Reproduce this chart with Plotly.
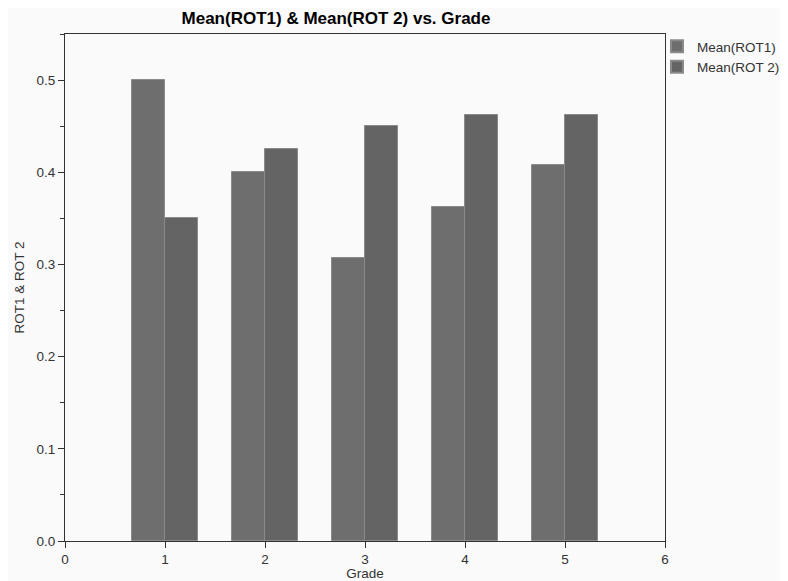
import plotly.graph_objects as go

grades = [1, 2, 3, 4, 5]
rot1 = [0.500, 0.400, 0.307, 0.362, 0.408]
rot2 = [0.350, 0.425, 0.450, 0.462, 0.462]
x_ticks = [0, 1, 2, 3, 4, 5, 6]
y_ticks = [0.0, 0.1, 0.2, 0.3, 0.4, 0.5]

fig = go.Figure()
fig.add_trace(go.Bar(x=grades, y=rot1, name="Mean(ROT1)", offset=-1/3, width=1/3,
                     marker=dict(color="#6e6e6e", line=dict(color="#8a8a8a", width=1))))
fig.add_trace(go.Bar(x=grades, y=rot2, name="Mean(ROT 2)", offset=0, width=1/3,
                     marker=dict(color="#646464", line=dict(color="#8a8a8a", width=1))))

font = "Liberation Sans, Arial, sans-serif"
FS = 13.5
W, H = 780, 573
fig.update_layout(
    width=W, height=H,
    margin=dict(l=57, r=123, t=26, b=40, autoexpand=False),
    paper_bgcolor="#fafafa", plot_bgcolor="#fafafa",
    font=dict(family=font, size=FS, color="#333333"),
    title=dict(text="<b>Mean(ROT1) & Mean(ROT 2) vs. Grade</b>", x=328/W, xanchor="center",
               y=1 - 10/H, yanchor="middle", font=dict(family=font, size=17, color="#000000")),
    bargap=0, barmode="overlay",
    showlegend=True,
    legend=dict(xref="container", yref="container", x=649/W, xanchor="left", y=1 - 23/H,
                yanchor="top", bgcolor="rgba(0,0,0,0)",
                font=dict(family=font, size=FS, color="#333333"), tracegroupgap=0,
                itemsizing="constant"),
    xaxis=dict(range=[0, 6], tickvals=x_ticks, ticktext=[str(v) for v in x_ticks],
               showgrid=False, zeroline=False, showline=True, linecolor="#333333", linewidth=1,
               mirror=True, ticks="outside", ticklen=6, tickcolor="#333333", automargin=False,
               tickfont=dict(size=FS),
               title=dict(text="Grade", standoff=0, font=dict(size=FS))),
    yaxis=dict(range=[0, 0.55], tickvals=y_ticks, ticktext=[f"{v:.1f}" for v in y_ticks],
               showgrid=False, zeroline=False, showline=True, linecolor="#333333", linewidth=1,
               mirror=True, ticks="outside", ticklen=6, tickcolor="#333333", automargin=False,
               tickfont=dict(size=FS),
               minor=dict(ticks="outside", ticklen=4, dtick=0.05, tick0=0.05, tickcolor="#333333"),
               title=dict(text="ROT1 & ROT 2", standoff=8, font=dict(size=FS))),
)

fig.write_html("out.html")
